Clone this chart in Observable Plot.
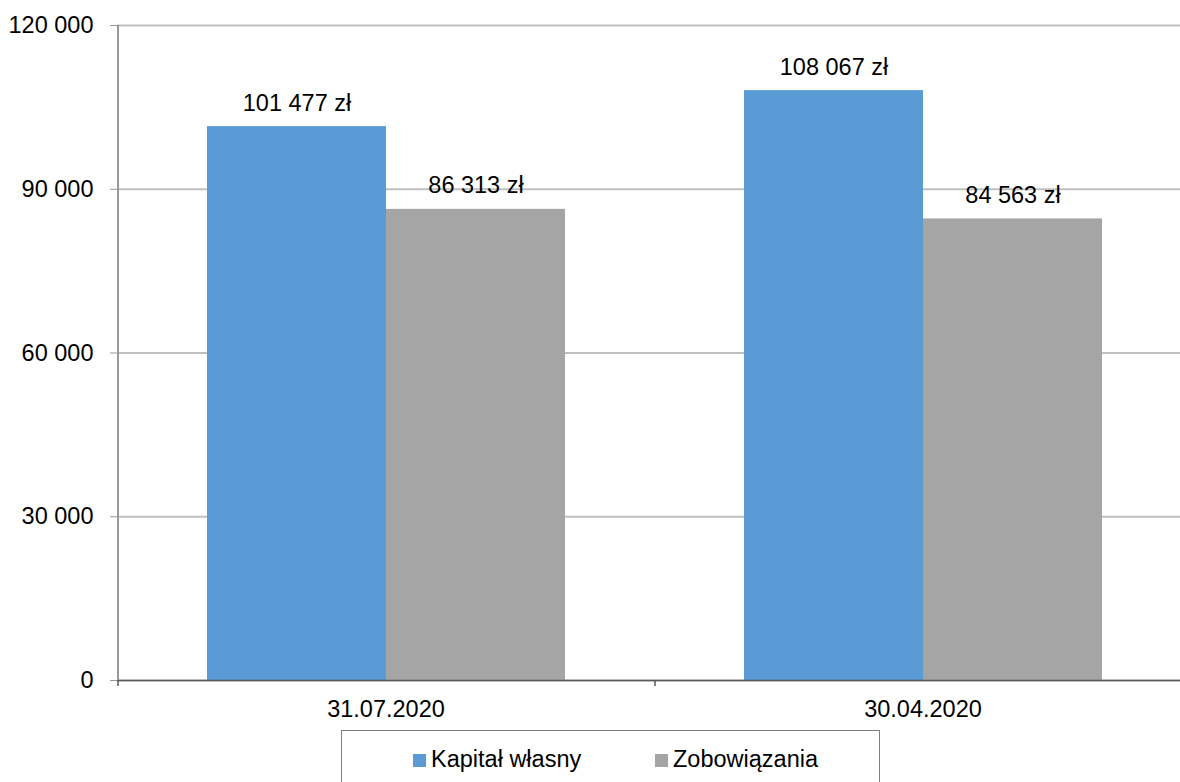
<!DOCTYPE html>
<html>
<head>
<meta charset="utf-8">
<script src="https://cdn.jsdelivr.net/npm/d3@7"></script>
<script src="https://cdn.jsdelivr.net/npm/@observablehq/plot@0.6"></script>
<style>
  html, body { margin: 0; padding: 0; overflow: hidden; background: #fff; width: 1180px; height: 782px; }
  #wrap { position: relative; width: 1180px; height: 782px; font-family: "Liberation Sans", Arial, sans-serif; overflow: hidden; }
  #chart { position: absolute; left: 0; top: 0; }
  #chart svg { max-width: none !important; }
  #legend { position: absolute; left: 341px; top: 730px; width: 539px; height: 70px; border: 1px solid #7f7f7f; box-sizing: border-box; background: #fff; }
  .item { position: absolute; top: 17px; height: 24px; display: flex; align-items: center; font-size: 23.5px; color: #000; line-height: 1; }
  .sw { width: 13px; height: 13px; margin-right: 5px; display: inline-block; }
</style>
</head>
<body>
<div id="wrap">
  <div id="chart"></div>
  <div id="legend"></div>
</div>
<script>
const dates = ["31.07.2020", "30.04.2020"];
const seriesNames = ["Kapitał własny", "Zobowiązania"];
const kapitalWlasny = [101477, 108067];
const zobowiazania = [86313, 84563];
const yTicks = [0, 30000, 60000, 90000, 120000];
const seriesColors = ["#5B9BD5", "#A5A5A5"];

const seriesValues = [kapitalWlasny, zobowiazania];
const data = [];
dates.forEach((d, i) => {
  seriesNames.forEach((s, j) => {
    data.push({ date: d, series: s, value: seriesValues[j][i] });
  });
});

const locale = d3.formatLocale({ decimal: ",", thousands: " ", grouping: [3], currency: ["", " zł"] });
const fmt = locale.format(",d");

const plot = Plot.plot({
  width: 1191,
  height: 728,
  marginLeft: 117,
  marginRight: 0,
  marginTop: 25,
  marginBottom: 48,
  style: { fontFamily: "Liberation Sans, Arial, sans-serif", fontSize: "23.5px", color: "#000", background: "transparent", maxWidth: "none" },
  fx: { domain: dates, padding: 0, label: null },
  x: { domain: seriesNames, paddingInner: 0, paddingOuter: 0.5, axis: null },
  y: { domain: [0, 120000], label: null },
  color: { domain: seriesNames, range: seriesColors },
  marks: [
    Plot.gridY(yTicks, { stroke: "#c0c0c0", strokeOpacity: 1, strokeWidth: 2 }),
    Plot.barY(data, { fx: "date", x: "series", y: "value", fill: "series" }),
    Plot.text(data, { fx: "date", x: "series", y: "value", text: d => fmt(d.value) + " zł", dy: -23.5, fontSize: 23.5, fill: "#000" }),
    Plot.ruleY([0], { stroke: "#595959", strokeWidth: 1.5 }),
    Plot.ruleX(dates, { fx: d => d, x: () => seriesNames[0], dx: -179, y1: 0, y2: 0, insetBottom: -6, stroke: "#595959", strokeWidth: 1.5 }),
    Plot.ruleX([dates[0]], { fx: d => d, x: () => seriesNames[0], dx: -179, y1: 0, y2: 120000, stroke: "#999", strokeWidth: 2 }),
    Plot.axisY({ ticks: yTicks, tickFormat: fmt, tickSize: 7, tickPadding: 17, stroke: "#999", fontSize: 23.5, label: null }),
    Plot.axisFx({ anchor: "bottom", tickSize: 0, tickPadding: 20, fontSize: 23.5, label: null })
  ]
});
document.getElementById("chart").appendChild(plot);

const legend = document.getElementById("legend");
const offsets = [71, 313];
seriesNames.forEach((s, j) => {
  const it = document.createElement("div");
  it.className = "item";
  it.style.left = offsets[j] + "px";
  const sw = document.createElement("span");
  sw.className = "sw";
  sw.style.background = seriesColors[j];
  const t = document.createElement("span");
  t.textContent = s;
  it.appendChild(sw);
  it.appendChild(t);
  legend.appendChild(it);
});
</script>
</body>
</html>
